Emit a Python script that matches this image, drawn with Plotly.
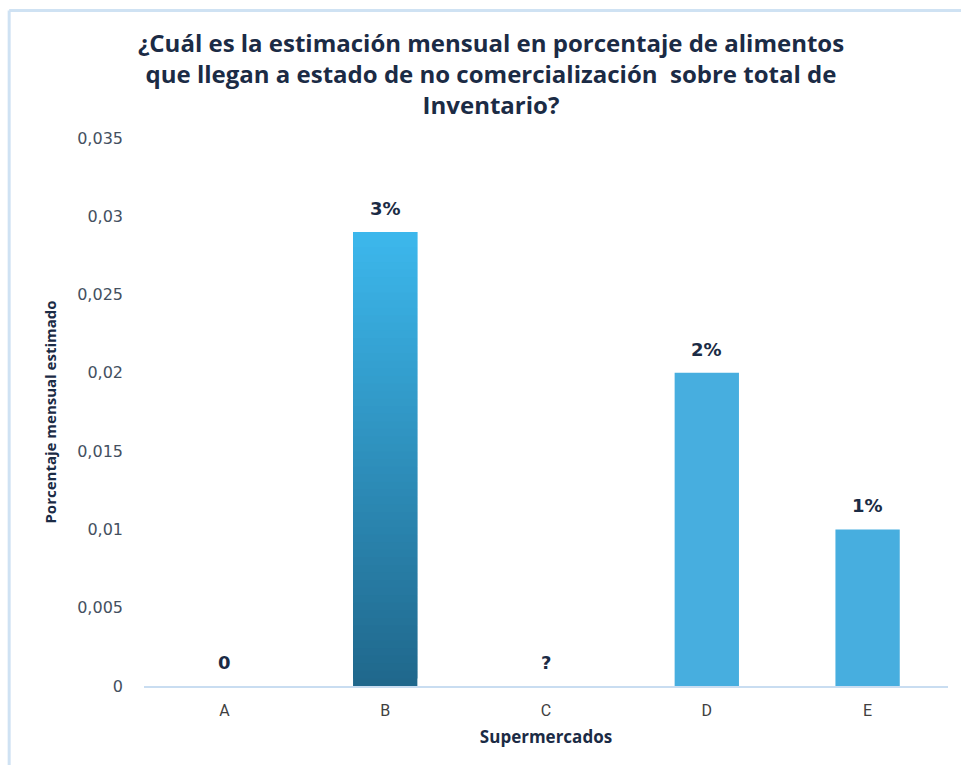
import plotly.graph_objects as go

# Data
supermercados = ["A", "B", "C", "D", "E"]
porcentaje = [0, 0.029, 0, 0.02, 0.01]
etiquetas = ["0", "3%", "?", "2%", "1%"]

titulo = ("¿Cuál es la estimación mensual en porcentaje de alimentos<br>"
          "que llegan a estado de no comercialización  sobre total de<br>"
          "Inventario?")

BAR_COLOR = "#47AEDF"
GRAD_TOP = (60, 183, 236)
GRAD_BOTTOM = (32, 104, 140)
TEXT_DARK = "#1B2B45"
TICK_COLOR = "#44505F"
LINE_COLOR = "#C9DDF1"
BAR_WIDTH = 0.40

fig = go.Figure()

# Flat-coloured bars (B is drawn separately with a vertical gradient)
plain_colors = [BAR_COLOR if s != "B" else "rgba(0,0,0,0)" for s in supermercados]
fig.add_trace(go.Bar(
    x=supermercados, y=porcentaje,
    marker=dict(color=plain_colors, line=dict(width=0)),
    width=BAR_WIDTH, hoverinfo="x+y", showlegend=False,
))

# Gradient bar for B: overlapping thin slices from the base up to its value
n_slices = 60
idx_b = supermercados.index("B")
val_b = porcentaje[idx_b]
step = val_b / n_slices
bases, heights, colors = [], [], []
for i in range(n_slices):
    t = i / (n_slices - 1)  # 0 at bottom, 1 at top
    r = round(GRAD_BOTTOM[0] + (GRAD_TOP[0] - GRAD_BOTTOM[0]) * t)
    g = round(GRAD_BOTTOM[1] + (GRAD_TOP[1] - GRAD_BOTTOM[1]) * t)
    b = round(GRAD_BOTTOM[2] + (GRAD_TOP[2] - GRAD_BOTTOM[2]) * t)
    base = i * step
    bases.append(base)
    heights.append(min(step * 2, val_b - base))
    colors.append(f"rgb({r},{g},{b})")
fig.add_trace(go.Bar(
    x=[supermercados[idx_b]] * n_slices, y=heights, base=bases,
    marker=dict(color=colors, line=dict(width=0)),
    width=BAR_WIDTH, hoverinfo="skip", showlegend=False,
))

# Value labels above each bar
for s, v, lab in zip(supermercados, porcentaje, etiquetas):
    fig.add_annotation(
        x=s, y=v, text=f"<b>{lab}</b>", showarrow=False,
        yanchor="bottom", yshift=11,
        font=dict(family="DejaVu Sans", size=18, color=TEXT_DARK),
    )

# Light frame on the top and left edges
fig.add_shape(type="line", xref="paper", yref="paper",
              x0=-0.1677, x1=1.02, y0=1.2327, y1=1.2327,
              line=dict(color="#CFE2F3", width=3))
fig.add_shape(type="line", xref="paper", yref="paper",
              x0=-0.1677, x1=-0.1677, y0=1.2327, y1=-0.15,
              line=dict(color="#CFE2F3", width=3))

fig.update_layout(
    width=961, height=765,
    margin=dict(l=143.5, r=12.5, t=138, b=79),
    paper_bgcolor="white", plot_bgcolor="white",
    barmode="overlay",
    separators=", ",
    title=dict(
        text=f"<b>{titulo}</b>", x=491 / 961, xanchor="center",
        y=1 - 52 / 765, yanchor="top",
        font=dict(family="Open Sans", size=24, color=TEXT_DARK),
    ),
    xaxis=dict(
        type="category", range=[-0.5, 4.5],
        showline=True, linecolor=LINE_COLOR, linewidth=2,
        showgrid=False, ticks="",
        tickfont=dict(family="Roboto", size=16, color="#404040"),
        ticklabelstandoff=9,
        title=dict(text="<b>Supermercados</b>", standoff=12,
                   font=dict(family="Open Sans", size=17, color=TEXT_DARK)),
    ),
    yaxis=dict(
        range=[0, 0.035], dtick=0.005, tick0=0,
        showgrid=False, zeroline=False, showline=False, ticks="",
        tickfont=dict(family="DejaVu Sans", size=16, color=TICK_COLOR),
        ticklabelstandoff=20,
        title=dict(text="<b>Porcentaje mensual estimado</b>", standoff=16,
                   font=dict(family="Open Sans", size=15, color=TEXT_DARK)),
    ),
)

fig.write_html("out.html")
